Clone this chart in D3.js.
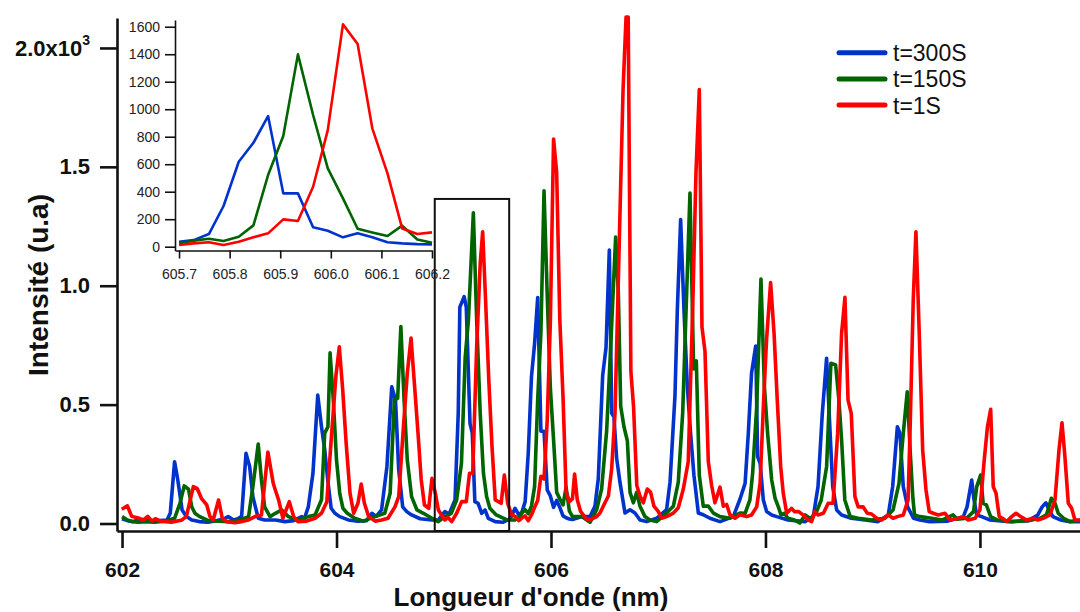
<!DOCTYPE html>
<html><head><meta charset="utf-8">
<script src="https://cdn.jsdelivr.net/npm/d3@7"></script>
<style>
body{margin:0;background:#fff}
svg{display:block}
text{font-family:"Liberation Sans",Arial,Helvetica,sans-serif}
</style>
</head><body>
<svg id="chart" width="1080" height="612"></svg>
<script>
// ---------- DATA ----------
const seriesNames = ["t=300S", "t=150S", "t=1S"];

// main spectra: [wavelength nm, intensity]
const blue300 = [
[602.00,20],[602.05,12],[602.10,8],[602.15,15],[602.20,10],[602.25,12],[602.30,8],[602.35,12],[602.42,15],[602.45,44],
[602.49,260],[602.52,183],[602.56,57],[602.60,30],[602.65,15],[602.72,8],[602.80,5],[602.88,12],[602.95,20],[602.99,29],
[603.04,15],[603.08,20],[603.115,30],[603.156,295],[603.19,240],[603.22,113],[603.27,22],[603.33,15],[603.43,15],[603.52,8],
[603.60,12],[603.675,29],[603.70,20],[603.737,70],[603.78,210],[603.825,540],[603.86,407],[603.89,310],[603.92,176],[603.95,64],
[603.985,43],[604.03,29],[604.11,15],[604.20,10],[604.28,12],[604.33,43],[604.37,30],[604.42,57],[604.47,239],[604.515,575],
[604.55,519],[604.58,225],[604.617,70],[604.655,50],[604.70,36],[604.78,20],[604.89,15],[604.95,15],[605.01,50],[605.05,40],
[605.105,99],[605.135,463],[605.15,910],[605.19,954],[605.21,910],[605.245,420],[605.266,380],[605.29,92],[605.32,85],[605.354,43],
[605.385,57],[605.415,22],[605.48,8],[605.55,5],[605.62,20],[605.665,64],[605.700,36],[605.729,48],[605.759,92],[605.788,296],
[605.818,618],[605.847,756],[605.876,950],[605.906,388],[605.935,388],[605.965,141],[605.994,116],[606.024,68],[606.053,97],[606.082,68],
[606.112,32],[606.141,24],[606.171,19],[606.200,17],[606.29,29],[606.364,29],[606.41,73],[606.441,188],[606.482,623],[606.513,739],
[606.544,1150],[606.566,464],[606.587,449],[606.612,275],[606.643,174],[606.69,44],[606.737,58],[606.783,44],[606.83,15],[606.892,8],
[606.985,22],[607.078,58],[607.11,174],[607.156,536],[607.178,898],[607.209,1278],[607.24,898],[607.271,580],[607.302,377],[607.333,203],
[607.374,44],[607.42,37],[607.482,22],[607.576,8],[607.70,29],[607.762,102],[607.81,169],[607.84,379],[607.87,632],[607.909,746],
[607.927,281],[607.95,253],[607.98,99],[608.011,50],[608.058,36],[608.105,29],[608.21,15],[608.368,8],[608.446,29],[608.49,155],
[608.53,463],[608.57,695],[608.60,407],[608.627,155],[608.664,57],[608.71,36],[608.80,22],[608.93,15],[609.05,8],[609.145,36],
[609.186,155],[609.23,407],[609.254,379],[609.285,155],[609.326,70],[609.38,22],[609.44,15],[609.53,8],[609.70,10],[609.845,29],
[609.88,70],[609.923,183],[609.945,99],[609.97,36],[610.016,29],[610.09,15],[610.28,8],[610.45,12],[610.54,36],[610.58,70],
[610.615,87],[610.645,57],[610.68,29],[610.75,15],[610.84,8],[610.95,8]
];

const green150 = [
[602.00,29],[602.05,15],[602.10,8],[602.15,5],[602.22,8],[602.30,5],[602.40,10],[602.49,22],[602.54,85],[602.58,158],
[602.62,144],[602.65,70],[602.68,43],[602.72,30],[602.80,13],[602.90,10],[603.00,8],[603.10,15],[603.18,29],[603.22,155],
[603.27,334],[603.30,183],[603.33,70],[603.38,29],[603.43,43],[603.49,57],[603.55,29],[603.64,15],[603.74,29],[603.80,36],
[603.86,100],[603.89,380],[603.92,407],[603.94,718],[603.97,520],[604.00,267],[604.03,127],[604.06,64],[604.10,43],[604.17,22],
[604.25,10],[604.36,29],[604.45,43],[604.50,127],[604.54,520],[604.57,526],[604.60,828],[604.63,520],[604.66,267],[604.70,113],
[604.75,57],[604.81,43],[604.89,22],[604.95,8],[605.01,29],[605.07,43],[605.12,99],[605.165,253],[605.20,700],[605.23,856],
[605.276,1307],[605.307,856],[605.34,463],[605.37,211],[605.40,113],[605.43,64],[605.49,36],[605.59,15],[605.665,15],[605.700,24],
[605.729,44],[605.759,58],[605.788,41],[605.818,73],[605.847,155],[605.876,521],[605.906,805],[605.935,1399],[605.965,958],[605.994,570],
[606.024,352],[606.053,131],[606.082,104],[606.112,78],[606.141,153],[606.171,53],[606.200,29],[606.286,29],[606.364,5],[606.426,58],
[606.472,145],[606.519,390],[606.55,680],[606.575,927],[606.603,1205],[606.628,970],[606.65,493],[606.681,406],[606.712,348],[606.737,131],
[606.768,87],[606.799,131],[606.83,73],[606.876,29],[606.923,15],[606.985,8],[607.078,44],[607.141,73],[607.187,174],[607.228,464],
[607.265,970],[607.296,1390],[607.33,650],[607.355,684],[607.383,203],[607.42,73],[607.467,73],[607.514,44],[607.576,29],[607.669,22],
[607.762,44],[607.81,43],[607.855,99],[607.88,210],[607.918,490],[607.958,1028],[607.99,575],[608.02,379],[608.058,183],[608.09,106],
[608.12,70],[608.145,36],[608.175,43],[608.21,22],[608.27,15],[608.32,2],[608.37,36],[608.42,20],[608.477,50],[608.52,99],
[608.57,239],[608.61,674],[608.654,667],[608.685,519],[608.71,351],[608.74,99],[608.79,29],[608.865,22],[608.99,15],[609.114,22],
[609.19,57],[609.245,169],[609.285,379],[609.322,554],[609.35,300],[609.375,105],[609.39,36],[609.44,29],[609.55,22],[609.65,15],
[609.75,36],[609.79,18],[609.875,22],[609.94,50],[609.97,155],[610.006,204],[610.03,85],[610.06,78],[610.10,29],[610.16,15],
[610.30,8],[610.45,12],[610.56,22],[610.62,36],[610.666,106],[610.70,85],[610.73,43],[610.78,22],[610.84,8],[610.95,15]
];

const red1 = [
[601.997,60],[602.05,74],[602.09,30],[602.15,23],[602.20,15],[602.24,30],[602.28,10],[602.31,20],[602.36,10],[602.46,5],
[602.56,15],[602.60,30],[602.665,155],[602.70,148],[602.74,106],[602.79,78],[602.82,29],[602.85,15],[602.90,99],[602.935,22],
[602.976,8],[603.05,3],[603.115,8],[603.18,15],[603.24,29],[603.30,36],[603.36,300],[603.41,169],[603.43,140],[603.46,99],
[603.50,22],[603.56,92],[603.60,29],[603.64,8],[603.72,10],[603.80,22],[603.86,43],[603.91,92],[603.95,351],[603.995,624],
[604.026,743],[604.058,561],[604.09,337],[604.126,127],[604.16,43],[604.20,85],[604.23,166],[604.26,85],[604.30,29],[604.36,10],
[604.42,15],[604.48,22],[604.545,70],[604.58,113],[604.62,380],[604.66,632],[604.695,780],[604.726,590],[604.76,380],[604.79,183],
[604.82,78],[604.86,64],[604.89,190],[604.925,120],[604.95,57],[605.01,15],[605.04,25],[605.074,8],[605.12,43],[605.167,92],
[605.21,92],[605.24,211],[605.27,211],[605.307,743],[605.34,1094],[605.363,1227],[605.39,940],[605.42,603],[605.45,323],[605.48,99],
[605.51,92],[605.535,85],[605.565,204],[605.596,85],[605.633,36],[605.67,29],[605.700,12],[605.729,24],[605.759,32],[605.788,12],
[605.818,36],[605.847,68],[605.876,97],[605.906,199],[605.935,187],[605.965,436],[605.994,848],[606.024,1617],[606.053,1474],[606.082,861],
[606.112,533],[606.141,133],[606.171,92],[606.200,104],[606.22,208],[606.245,100],[606.276,51],[606.33,19],[606.364,15],[606.426,29],
[606.457,44],[606.503,87],[606.535,116],[606.566,232],[606.597,464],[606.637,1188],[606.672,1825],[606.70,2130],[606.72,2130],[606.745,640],
[606.77,490],[606.80,160],[606.83,116],[606.861,87],[606.898,145],[606.929,131],[606.96,73],[607.00,51],[607.032,22],[607.078,29],
[607.141,44],[607.187,66],[607.234,145],[607.28,261],[607.321,898],[607.352,1477],[607.383,1825],[607.408,826],[607.436,724],[607.467,261],
[607.498,160],[607.529,87],[607.576,153],[607.607,73],[607.638,80],[607.669,37],[607.716,22],[607.762,37],[607.824,29],[607.87,36],
[607.918,70],[607.95,169],[607.98,490],[608.01,772],[608.048,1013],[608.08,800],[608.11,519],[608.142,239],[608.166,127],[608.198,43],
[608.244,64],[608.27,50],[608.31,50],[608.35,36],[608.40,15],[608.43,8],[608.46,50],[608.49,36],[608.54,43],[608.585,85],
[608.63,85],[608.673,379],[608.71,800],[608.741,951],[608.77,519],[608.80,463],[608.834,113],[608.865,70],[608.91,70],[608.95,43],
[608.99,40],[609.037,22],[609.083,15],[609.145,36],[609.19,22],[609.23,29],[609.285,36],[609.33,99],[609.35,420],[609.378,940],
[609.403,1227],[609.434,800],[609.466,309],[609.497,141],[609.527,50],[609.565,43],[609.61,36],[609.674,43],[609.72,15],[609.80,22],
[609.845,29],[609.89,15],[609.955,22],[610.00,57],[610.04,267],[610.07,407],[610.10,480],[610.124,155],[610.15,127],[610.18,29],
[610.21,22],[610.25,8],[610.296,29],[610.336,43],[610.38,29],[610.435,15],[610.497,22],[610.54,15],[610.59,22],[610.653,36],
[610.70,99],[610.737,309],[610.765,424],[610.79,295],[610.824,85],[610.855,64],[610.886,15],[610.95,15]
];

// inset (zoom) spectra
const insetWl    = [605.700,605.729,605.759,605.788,605.818,605.847,605.876,605.906,605.935,605.965,605.994,606.024,606.053,606.082,606.112,606.141,606.171,606.200];
const insetBlue  = [36,48,92,296,618,756,950,388,388,141,116,68,97,68,32,24,19,17];
const insetGreen = [24,44,58,41,73,155,521,805,1399,958,570,352,131,104,78,153,53,29];
const insetRed   = [12,24,32,12,36,68,97,199,187,436,848,1617,1474,861,533,133,92,104];

// axes / ticks
const mainXTicks = [602, 604, 606, 608, 610];
const mainYTicks = [0, 500, 1000, 1500, 2000];
const mainYLabels = ["0.0", "0.5", "1.0", "1.5", "2.0x10"];
const insetXTicks = [605.7, 605.8, 605.9, 606.0, 606.1, 606.2];
const insetYTicks = [0, 200, 400, 600, 800, 1000, 1200, 1400, 1600];
const boxWl = [604.916, 605.61];
const boxTop = 1365;

// ---------- DRAW ----------
const colors = ["#0033cc", "#006400", "#ff0000"];
const svg = d3.select("#chart");

const x = d3.scaleLinear().domain([601.953, 610.933]).range([117, 1080]);
const y = d3.scaleLinear().domain([-31.5, 2126]).range([531, 18]);

svg.append("defs").append("clipPath").attr("id", "clipMain")
  .append("rect").attr("x", 117).attr("y", 0).attr("width", 963).attr("height", 531);

const line = d3.line().x(d => x(d[0])).y(d => y(d[1]));
const g = svg.append("g").attr("clip-path", "url(#clipMain)");
[blue300, green150, red1].forEach((s, i) => {
  g.append("path").datum(s).attr("d", line)
    .attr("fill", "none").attr("stroke", colors[i])
    .attr("stroke-width", 3.6).attr("stroke-linejoin", "round");
});

// box
svg.append("rect")
  .attr("x", x(boxWl[0])).attr("y", y(boxTop))
  .attr("width", x(boxWl[1]) - x(boxWl[0]))
  .attr("height", y.range()[0] - y(boxTop))
  .attr("fill", "none").attr("stroke", "#111").attr("stroke-width", 2);

// main axes
const yAxis = svg.append("g").attr("transform", "translate(117,0)")
  .call(d3.axisLeft(y).tickValues(mainYTicks).tickSize(17).tickSizeOuter(0).tickPadding(10)
    .tickFormat((d, i) => mainYLabels[i]));
const xAxis = svg.append("g").attr("transform", "translate(0,531)")
  .call(d3.axisBottom(x).tickValues(mainXTicks).tickSize(17).tickSizeOuter(0).tickPadding(14)
    .tickFormat(d3.format("d")));
[yAxis, xAxis].forEach(a => {
  a.select(".domain").attr("stroke", "#111").attr("stroke-width", 2.6);
  a.selectAll(".tick line").attr("stroke", "#111").attr("stroke-width", 2.6);
  a.selectAll(".tick text").attr("fill", "#111").attr("font-size", 22).attr("font-weight", "bold")
    .style("font-family", '"Liberation Sans", Arial, sans-serif');
});
xAxis.selectAll(".tick text").attr("font-size", 21);
yAxis.selectAll(".tick text").filter(d => d === 2000)
  .append("tspan").attr("font-size", 14).attr("dy", "-0.75em").text("3");

// axis titles
svg.append("text").attr("x", 531).attr("y", 606).attr("text-anchor", "middle")
  .attr("font-size", 26).attr("font-weight", "bold").attr("fill", "#111")
  .text("Longueur d'onde (nm)");
svg.append("text").attr("transform", "translate(48,285) rotate(-90)").attr("text-anchor", "middle")
  .attr("font-size", 28).attr("font-weight", "bold").attr("fill", "#111")
  .text("Intensité (u.a)");

// legend
const leg = svg.append("g");
seriesNames.forEach((n, i) => {
  const ly = 52.7 + i * 26.2;
  leg.append("line").attr("x1", 839).attr("x2", 885).attr("y1", ly).attr("y2", ly)
    .attr("stroke", colors[i]).attr("stroke-width", 5).attr("stroke-linecap", "round");
  leg.append("text").attr("x", 893).attr("y", ly + 8.5).attr("font-size", 23).attr("fill", "#111").text(n);
});

// inset
const ix = d3.scaleLinear().domain([605.692, 606.2]).range([175, 432]);
const iy = d3.scaleLinear().domain([-27.6, 1649]).range([250.5, 20]);
const iline = d3.line().x(d => ix(d[0])).y(d => iy(d[1]));
const ig = svg.append("g");
[insetBlue, insetGreen, insetRed].forEach((s, i) => {
  ig.append("path").datum(insetWl.map((w, k) => [w, s[k]])).attr("d", iline)
    .attr("fill", "none").attr("stroke", colors[i]).attr("stroke-width", 2.6).attr("stroke-linejoin", "round");
});
const iyAxis = ig.append("g").attr("transform", "translate(175,0)")
  .call(d3.axisLeft(iy).tickValues(insetYTicks).tickSize(10).tickSizeOuter(0).tickPadding(5).tickFormat(d3.format("d")));
const ixAxis = ig.append("g").attr("transform", "translate(0,250.5)")
  .call(d3.axisBottom(ix).tickValues(insetXTicks).tickSize(8).tickSizeOuter(0).tickPadding(11).tickFormat(d3.format(".1f")));
[iyAxis, ixAxis].forEach(a => {
  a.select(".domain").attr("stroke", "#111").attr("stroke-width", 1.6);
  a.selectAll(".tick line").attr("stroke", "#111").attr("stroke-width", 1.6);
  a.selectAll(".tick text").attr("fill", "#222").attr("font-size", 14)
    .style("font-family", '"Liberation Sans", Arial, sans-serif');
});
</script>
</body></html>
